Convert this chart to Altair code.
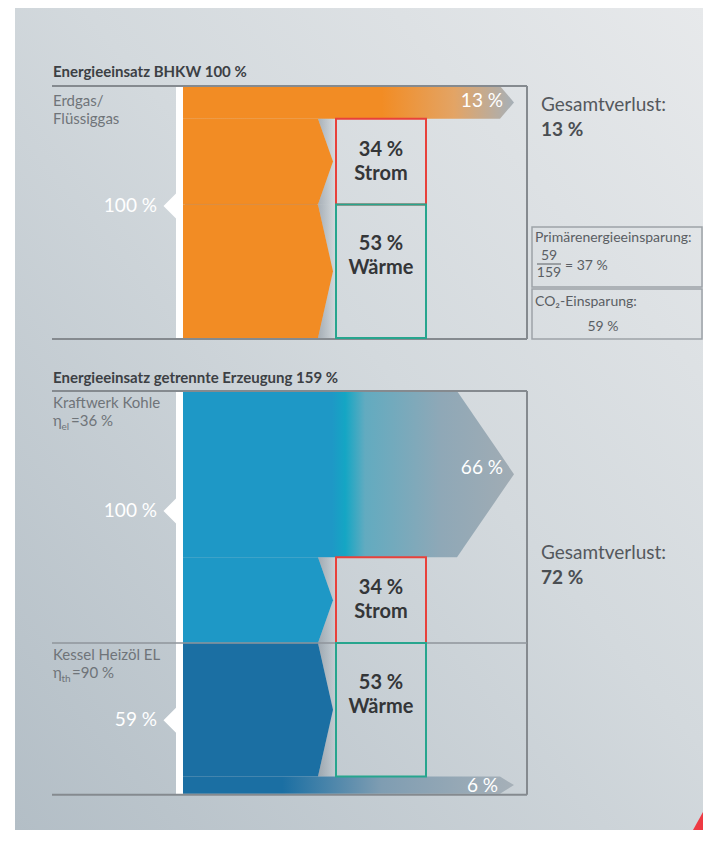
import altair as alt
import pandas as pd

# ---------------- data ----------------
chp_title = "Energieeinsatz BHKW"
chp_total = 100
chp_source = ["Erdgas/", "Flüssiggas"]
chp_flows = ["Verlust", "Strom", "Wärme"]
chp_values = [13, 34, 53]

sep_title = "Energieeinsatz getrennte Erzeugung"
sep_total = 159
coal_source = ["Kraftwerk Kohle"]
coal_eff_sub, coal_eff = "el", 36
coal_input = 100
coal_flows = ["Verlust", "Strom"]
coal_values = [66, 34]

boiler_source = ["Kessel Heizöl EL"]
boiler_eff_sub, boiler_eff = "th", 90
boiler_input = 59
boiler_flows = ["Wärme", "Verlust"]
boiler_values = [53, 6]

total_loss = [13, 72]
primary_num, primary_den, primary_pct = 59, 159, 37
co2_saving = 59

# ---------------- layout / style ----------------
W, H = 695, 822
OX, OY = 8, 8
K = 2.52            # px per percent
TOP0 = 86
GAP = 53
X_BAR, X0, XN, XT = 176, 183, 318, 333
B0, B1 = 336, 426
FL, FR = 52, 527
LOSS_TIP = 514
FONT = "Lato"

ORANGE = "#f28c24"
BLUE = "#1e98c6"
DBLUE = "#1b6fa3"
GREY_END = "#a6b0b8"

xs = alt.Scale(domain=[OX, OX + W], nice=False, zero=False)
ys = alt.Scale(domain=[OY, OY + H], nice=False, zero=False, reverse=True)
X = lambda f: alt.X(f, type="quantitative", scale=xs, axis=None)
Y = lambda f: alt.Y(f, type="quantitative", scale=ys, axis=None)


def grad(stops, x1=0, y1=0, x2=1, y2=0):
    return alt.LinearGradient(
        gradient="linear",
        stops=[alt.GradientStop(offset=o, color=c) for o, c in stops],
        x1=x1, y1=y1, x2=x2, y2=y2)


def pointed(y0, y1, xflat, xtip, xleft=X0):
    return pd.DataFrame({"y": [y0, (y0 + y1) / 2, y1],
                         "x": [xleft] * 3,
                         "x2": [xflat, xtip, xflat]})


def area(df, color, **kw):
    return alt.Chart(df).mark_area(orient="horizontal", color=color, **kw).encode(
        y=Y("y"), x=X("x"), x2="x2")


def edges(top, values):
    out = [top]
    for v in values:
        out.append(out[-1] + v * K)
    return out


layers = []

# background
bg = pd.DataFrame({"x": [15], "x2": [OX + W], "y": [OY], "y2": [OY + H]})
layers.append(alt.Chart(bg).mark_rect(
    color=grad([(0, "#e7e9eb"), (0.45, "#d3d9dd"), (1, "#b3bec6")], x1=1, y1=0, x2=0, y2=1)
).encode(x=X("x"), x2="x2", y=Y("y"), y2="y2"))

# panel geometry
chp_e = edges(TOP0, chp_values)
BOT0 = TOP0 + chp_total * K + GAP
coal_e = edges(BOT0, coal_values)
boil_e = edges(coal_e[-1], boiler_values)
panels = [(TOP0, chp_e[-1] + 1), (BOT0, boil_e[-1] + 3)]

# flows
orange_loss = grad([(0, ORANGE), (0.6, ORANGE), (0.82, "#e3a465"), (1, GREY_END)])
blue_loss = grad([(0, BLUE), (0.45, BLUE), (0.49, "#14a6c4"), (0.55, "#62abc0"),
                  (0.78, "#8fa8b7"), (1, "#a1acb4")])
dblue_loss = grad([(0, DBLUE), (0.3, DBLUE), (0.6, "#7f9db2"), (1, GREY_END)])


def loss_shape(y0, y1):
    h = y1 - y0
    return pointed(y0, y1, LOSS_TIP - (14 if h < 60 else 57), LOSS_TIP)


shadow = grad([(0, "rgba(110,122,134,0.45)"), (1, "rgba(110,122,134,0)")])
boxes = []
box_texts = []

# CHP
layers.append(area(loss_shape(chp_e[0], chp_e[1]), orange_loss))
for i in (1, 2):
    sh = pointed(chp_e[i], chp_e[i + 1], XN, XT)
    layers.append(area(sh, ORANGE))
    layers.append(area(pd.DataFrame({"y": sh.y, "x": sh.x2, "x2": [B0] * 3}), shadow))
    boxes.append((chp_e[i], chp_e[i + 1], chp_flows[i]))
    box_texts.append((chp_e[i], chp_e[i + 1], chp_values[i], chp_flows[i]))

# coal
layers.append(area(loss_shape(coal_e[0], coal_e[1]), blue_loss))
sh = pointed(coal_e[1], coal_e[2], XN, XT)
layers.append(area(sh, BLUE))
layers.append(area(pd.DataFrame({"y": sh.y, "x": sh.x2, "x2": [B0] * 3}), shadow))
boxes.append((coal_e[1], coal_e[2], coal_flows[1]))
box_texts.append((coal_e[1], coal_e[2], coal_values[1], coal_flows[1]))

# boiler
sh = pointed(boil_e[0], boil_e[1], XN, XT)
layers.append(area(sh, DBLUE))
layers.append(area(pd.DataFrame({"y": sh.y, "x": sh.x2, "x2": [B0] * 3}), shadow))
layers.append(area(loss_shape(boil_e[1], boil_e[2] + 2), dblue_loss))
boxes.append((boil_e[0], boil_e[1], boiler_flows[0]))
box_texts.append((boil_e[0], boil_e[1], boiler_values[0], boiler_flows[0]))

# faint seam inside orange body
seam = pd.DataFrame({"x": [X0 + 2], "x2": [XN - 1], "y": [chp_e[2]]})
layers.append(alt.Chart(seam).mark_rule(color="#c97a2e", strokeWidth=1, opacity=0.45).encode(
    x=X("x"), x2="x2", y=Y("y")))

# white node bars
bars = pd.DataFrame({"x": [X_BAR, X_BAR], "x2": [X0, X0],
                     "y": [TOP0, BOT0], "y2": [chp_e[-1], boil_e[-1] + 3]})
layers.append(alt.Chart(bars).mark_rect(color="white").encode(
    x=X("x"), x2="x2", y=Y("y"), y2="y2"))

# input markers
inputs = [(chp_e[0], chp_e[-1], chp_total), (coal_e[0], coal_e[-1], coal_input),
          (boil_e[0], boil_e[-1], boiler_input)]
mk = pd.DataFrame({"x": [X_BAR] * 3,
                   "y": [(a + b) / 2 - 6 for a, b, _ in inputs],
                   "t": [f"{v} %" for _, _, v in inputs]})
mk.loc[2, "y"] += 9
layers.append(alt.Chart(mk).mark_point(shape="M0,-1L-1,0L0,1Z", filled=True, color="white",
                                       size=625, opacity=1, strokeWidth=0).encode(x=X("x"), y=Y("y")))
layers.append(alt.Chart(mk.assign(x=X_BAR - 19)).mark_text(
    font=FONT, fontSize=19, color="white", align="right", baseline="middle").encode(
    x=X("x"), y=Y("y"), text="t:N"))

# frames
fr = []
for (t, b) in panels:
    fr += [(FL, FR, t, t), (FL, FR, b, b), (FR, FR, t, b)]
frd = pd.DataFrame(fr, columns=["x", "x2", "y", "y2"])
layers.append(alt.Chart(frd).mark_rule(color="#858a8f", strokeWidth=2).encode(
    x=X("x"), x2="x2", y=Y("y"), y2="y2"))
sep = pd.DataFrame({"x": [FL], "x2": [FR], "y": [coal_e[-1]]})
layers.append(alt.Chart(sep).mark_rule(color="#8f959b", strokeWidth=1.3).encode(
    x=X("x"), x2="x2", y=Y("y")))

# output boxes
bx = pd.DataFrame([(B0, B1, a, b, "#e8413b" if n == "Strom" else "#27a58e") for a, b, n in boxes],
                  columns=["x", "x2", "y", "y2", "c"])
layers.append(alt.Chart(bx).mark_rect(fillOpacity=0, strokeWidth=2).encode(
    x=X("x"), x2="x2", y=Y("y"), y2="y2", stroke=alt.Stroke("c:N", scale=None)))

bt = []
for a, b, v, n in box_texts:
    c = a + min(b - a, 104) / 2
    bt += [((B0 + B1) / 2, c - 12, f"{v} %"), ((B0 + B1) / 2, c + 12, n)]
layers.append(alt.Chart(pd.DataFrame(bt, columns=["x", "y", "t"])).mark_text(
    font=FONT, fontSize=20, fontWeight="bold", color="#343638", baseline="middle").encode(
    x=X("x"), y=Y("y"), text="t:N"))

# loss labels
ll = pd.DataFrame({"x": [LOSS_TIP - 11] * 2 + [LOSS_TIP - 16],
                   "y": [(chp_e[0] + chp_e[1]) / 2 - 1, (coal_e[0] + coal_e[1]) / 2 - 6,
                         (boil_e[1] + boil_e[2]) / 2 + 2],
                   "t": [f"{chp_values[0]} %", f"{coal_values[0]} %", f"{boiler_values[1]} %"]})
layers.append(alt.Chart(ll).mark_text(font=FONT, fontSize=19, color="white", align="right",
                                      baseline="middle").encode(x=X("x"), y=Y("y"), text="t:N"))

# titles
tt = pd.DataFrame({"x": [FL + 1, FL + 1], "y": [TOP0 - 14, BOT0 - 13],
                   "t": [f"{chp_title} {chp_total} %", f"{sep_title} {sep_total} %"]})
layers.append(alt.Chart(tt).mark_text(font=FONT, fontSize=15, fontWeight="bold", color="#3c4044",
                                      align="left", baseline="middle").encode(
    x=X("x"), y=Y("y"), text="t:N"))

# source labels
src = [(FL + 1, TOP0 + 15, chp_source[0]), (FL + 1, TOP0 + 33, chp_source[1]),
       (FL + 1, BOT0 + 12, coal_source[0]), (FL + 1, BOT0 + 30, "η"),
       (FL + 19, BOT0 + 30, f"={coal_eff} %"),
       (FL + 1, coal_e[-1] + 12, boiler_source[0]), (FL + 1, coal_e[-1] + 30, "η"),
       (FL + 20, coal_e[-1] + 30, f"={boiler_eff} %")]
layers.append(alt.Chart(pd.DataFrame(src, columns=["x", "y", "t"])).mark_text(
    font=FONT, fontSize=15, color="#6f7479", align="left", baseline="middle").encode(
    x=X("x"), y=Y("y"), text="t:N"))
subs = [(FL + 9.5, BOT0 + 36, coal_eff_sub), (FL + 9.5, coal_e[-1] + 36, boiler_eff_sub)]
layers.append(alt.Chart(pd.DataFrame(subs, columns=["x", "y", "t"])).mark_text(
    font=FONT, fontSize=10, color="#6f7479", align="left", baseline="middle").encode(
    x=X("x"), y=Y("y"), text="t:N"))

# right column: total loss
RX = 541
gl = pd.DataFrame({"x": [RX, RX], "y": [TOP0 + 19, BOT0 + 162], "t": ["Gesamtverlust:"] * 2})
layers.append(alt.Chart(gl).mark_text(font=FONT, fontSize=19, color="#54585d", align="left",
                                      baseline="middle").encode(x=X("x"), y=Y("y"), text="t:N"))
gv = pd.DataFrame({"x": [RX, RX], "y": [TOP0 + 44, BOT0 + 187], "t": [f"{v} %" for v in total_loss]})
layers.append(alt.Chart(gv).mark_text(font=FONT, fontSize=19, fontWeight="bold", color="#4a4e52",
                                      align="left", baseline="middle").encode(
    x=X("x"), y=Y("y"), text="t:N"))

# right column: savings boxes
sb = pd.DataFrame({"x": [532, 532], "x2": [702, 702], "y": [227, 289], "y2": [287, 339]})
layers.append(alt.Chart(sb).mark_rect(fillOpacity=0, stroke="#9da3a8", strokeWidth=1.5).encode(
    x=X("x"), x2="x2", y=Y("y"), y2="y2"))
st = pd.DataFrame([(535, 238, "Primärenergieeinsparung:", "left"),
                   (549, 255.5, f"{primary_num}", "center"),
                   (549, 273, f"{primary_den}", "center"),
                   (565, 266, f"= {primary_pct} %", "left"),
                   (535, 302, "CO₂-Einsparung:", "left"),
                   (603, 327, f"{co2_saving} %", "center")],
                  columns=["x", "y", "t", "a"])
for a in ("left", "center"):
    layers.append(alt.Chart(st[st.a == a]).mark_text(
        font=FONT, fontSize=14, color="#5a5e63", align=a, baseline="middle").encode(
        x=X("x"), y=Y("y"), text="t:N"))
frac = pd.DataFrame({"x": [537], "x2": [561], "y": [264]})
layers.append(alt.Chart(frac).mark_rule(color="#5a5e63", strokeWidth=1).encode(
    x=X("x"), x2="x2", y=Y("y")))

# red corner accent
corner = pd.DataFrame({"y": [812, OY + H], "x": [OX + W, OX + W - 10], "x2": [OX + W, OX + W]})
layers.append(area(corner, "#ee3a43"))

chart = alt.layer(*layers).properties(
    width=W, height=H, padding=0, autosize=alt.AutoSizeParams(type="none"),
    background="white"
).configure_view(stroke=None)

chart.save("out.html", embed_options={"renderer": "svg", "actions": False})
